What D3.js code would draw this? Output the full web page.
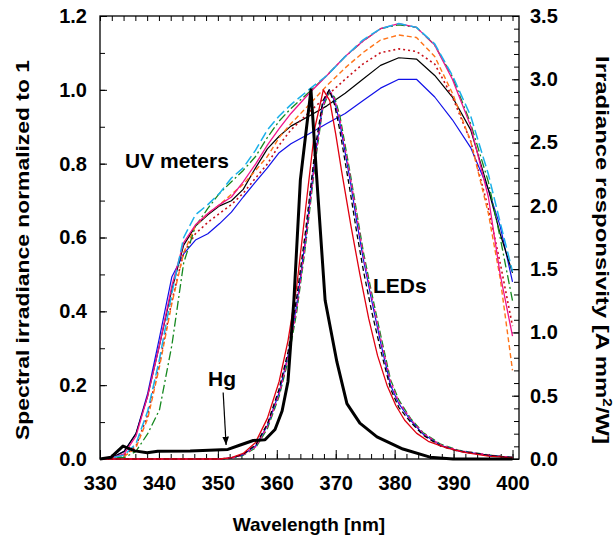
<!DOCTYPE html>
<html>
<head>
<meta charset="utf-8">
<script src="https://cdn.jsdelivr.net/npm/d3@7"></script>
<style>
body{margin:0;background:#fff}
text{font-family:"Liberation Sans",Arial,Helvetica,sans-serif;font-weight:bold;fill:#000}
</style>
</head>
<body>
<div id="chart"></div>
<script>
// UV meter responsivities [A mm2/W], right axis
const uvWl = [330,332,334.1,336.1,338.1,340.1,342.2,344.2,346.2,348.3,350.3,352.3,354.3,356.4,358.4,360.4,362.4,365.5,368.5,371.6,374.6,377.6,380.7,383.7,386.8,389.8,392.9,395.9,397.9,400]
const uvMagenta = [0,.01,.04,.18,.50,.90,1.37,1.71,1.85,1.94,2.01,2.07,2.19,2.33,2.48,2.61,2.73,2.89,3.03,3.18,3.30,3.40,3.44,3.41,3.27,3.00,2.63,2.07,1.46,0.97]
const uvCyan = [0,.01,.03,.12,.38,.79,1.31,1.75,1.93,2.01,2.10,2.22,2.30,2.44,2.60,2.71,2.80,2.92,3.03,3.18,3.31,3.40,3.44,3.41,3.28,3.03,2.71,2.25,1.87,1.48]
const uvGreen = [0,.01,.01,.06,.20,.39,.90,1.55,1.84,1.98,2.10,2.19,2.28,2.39,2.54,2.67,2.77,2.90,3.03,3.18,3.30,3.40,3.43,3.41,3.27,3.02,2.65,2.19,1.75,1.25]
const uvOrange = [0,.01,.02,.09,.32,.73,1.23,1.63,1.84,1.94,2.01,2.09,2.17,2.28,2.39,2.54,2.65,2.80,2.95,3.09,3.21,3.31,3.35,3.33,3.18,2.89,2.51,1.94,1.43,0.70]
const uvRed = [0,.01,.03,.10,.35,.76,1.25,1.63,1.78,1.87,1.94,2.01,2.10,2.22,2.33,2.48,2.60,2.74,2.87,3.00,3.12,3.21,3.24,3.22,3.12,2.86,2.51,1.98,1.55,1.05]
const uvBlack = [0,.01,.06,.20,.50,.90,1.34,1.69,1.84,1.93,2.00,2.04,2.13,2.30,2.45,2.55,2.63,2.71,2.79,2.89,3.00,3.11,3.17,3.16,3.03,2.86,2.60,2.13,1.78,1.47]
const uvBlue = [0,.01,.06,.20,.52,.96,1.44,1.62,1.73,1.78,1.86,1.95,2.07,2.19,2.30,2.42,2.49,2.57,2.65,2.73,2.83,2.93,3.00,3.00,2.86,2.68,2.46,2.13,1.84,1.40]

// Hg lamp spectrum, normalized (left axis)
const hgWl = [330,331.9,333.9,335.9,338,339.8,345.3,351.7,353.8,356,358,359.7,360.9,361.9,362.9,364,365.8,366.8,368.2,370.2,371.9,374.1,377,381.4,386,389.9,400]
const hgVal = [0,.005,.035,.022,.017,.021,.022,.026,.038,.05,.052,.08,.13,.21,.43,.756,1.0,.756,.43,.263,.15,.097,.06,.027,.005,0,0]

// LED spectra, normalized (left axis)
const ledWl = [330,350.3,352.3,354.3,356.4,358.4,360.4,361.9,363.4,364.9,366.5,367.8,368.9,369.8,370.7,372.5,373.6,374.7,376.1,377.7,379.3,380.7,382.7,384.8,387.8,390.8,395.9,400]
const ledBlue = [0,0,.003,.012,.035,.09,.18,.28,.42,.60,.82,.96,1.0,.97,.91,.75,.64,.54,.43,.31,.20,.15,.105,.068,.037,.022,.01,.004]
const ledBlack = [0,0,.003,.013,.038,.095,.19,.29,.44,.62,.84,.97,1.0,.96,.89,.72,.61,.51,.40,.29,.19,.14,.10,.065,.035,.021,.01,.004]
const ledMagenta = [0,0,.002,.011,.033,.088,.175,.275,.41,.59,.81,.955,1.0,.975,.92,.76,.655,.55,.44,.32,.21,.155,.108,.07,.038,.023,.011,.004]
const ledGreen = [0,0,.002,.01,.03,.082,.17,.265,.40,.58,.80,.95,.995,.98,.93,.77,.665,.56,.45,.33,.215,.16,.11,.072,.04,.024,.011,.004]
const ledRedWl = [330,350.3,352.3,354.3,356.4,358.4,360.4,361.9,363.4,364.9,366.5,367.9,369.0,370.0,371.0,372.6,374.1,375.6,377.1,378.7,380.2,381.7,383.7,385.7,388.8,391.8,395.9,400]
const ledRed = [0,0,.004,.015,.045,.11,.21,.32,.47,.68,.90,1.0,.97,.88,.78,.63,.50,.38,.28,.20,.145,.105,.07,.048,.03,.018,.008,.003]

const xTicks = [330,340,350,360,370,380,390,400]
const yLeftTicks = [0,0.2,0.4,0.6,0.8,1.0,1.2]
const yRightTicks = [0,0.5,1.0,1.5,2.0,2.5,3.0,3.5]

drawChart("#chart")

function drawChart(id){
    const canvas = createCanvas()
    const svg = d3.select(id).append("svg").attr("width",canvas.width).attr("height",canvas.height)
    const sc = addScales(canvas)
    addAxes(svg,sc,canvas)
    addUvLines(svg,sc)
    addLedLines(svg,sc)
    addHgLine(svg,sc)
    addLabels(svg,sc)
}

function createCanvas(){
    return { width:616, height:542, margin:{top:16,right:97,bottom:83,left:100} }
}

function addScales(canvas){
    const m = canvas.margin
    const x = d3.scaleLinear().domain([330,401.1]).range([m.left,canvas.width-m.right])
    const yL = d3.scaleLinear().domain([0,1.2]).range([canvas.height-m.bottom,m.top])
    const yR = d3.scaleLinear().domain([0,3.5]).range([canvas.height-m.bottom,m.top])
    return {x,yL,yR}
}

function addAxes(svg,sc,canvas){
    const m = canvas.margin
    const bottom = canvas.height-m.bottom, right = canvas.width-m.right
    const minorX = d3.range(330,401,2)

    const gb = svg.append("g").attr("transform",`translate(0,${bottom})`)
    gb.call(d3.axisBottom(sc.x).tickValues(minorX).tickSize(-5).tickFormat(""))
    gb.append("g").call(d3.axisBottom(sc.x).tickValues(xTicks).tickSize(-9).tickPadding(17).tickFormat(d3.format("d")))

    svg.append("g").attr("transform",`translate(0,${m.top})`)
        .call(d3.axisTop(sc.x).tickValues(minorX).tickSize(-5).tickFormat(""))

    const gl = svg.append("g").attr("transform",`translate(${m.left},0)`)
    gl.call(d3.axisLeft(sc.yL).tickValues(d3.range(0,1.21,0.1)).tickSize(-5).tickFormat(""))
    gl.append("g").call(d3.axisLeft(sc.yL).tickValues(yLeftTicks).tickSize(-7).tickPadding(13).tickFormat(d3.format(".1f")))

    const gr = svg.append("g").attr("transform",`translate(${right},0)`)
    gr.call(d3.axisRight(sc.yR).tickValues(d3.range(0,3.51,0.1)).tickSize(-5).tickFormat(""))
    gr.append("g").call(d3.axisRight(sc.yR).tickValues(yRightTicks).tickSize(-7).tickPadding(11).tickFormat(d3.format(".1f")))

    svg.selectAll(".domain").remove()
    svg.selectAll(".tick line").attr("stroke","#000").attr("stroke-width",1)
    svg.selectAll(".tick text").attr("font-size","20px").attr("font-family","Liberation Sans, Arial, sans-serif").attr("font-weight","bold")

    svg.append("rect").attr("x",m.left).attr("y",m.top)
        .attr("width",right-m.left).attr("height",bottom-m.top)
        .attr("fill","none").attr("stroke","#000").attr("stroke-width",1.3)
}

function addSeries(svg,wl,vals,y,x,color,width,dash){
    const line = d3.line().x(d => x(d[0])).y(d => y(d[1]))
    svg.append("path").datum(wl.map((w,i) => [w,vals[i]]))
        .attr("fill","none").attr("stroke",color).attr("stroke-width",width)
        .attr("stroke-dasharray",dash).attr("stroke-linejoin","round").attr("d",line)
}

function addUvLines(svg,sc){
    addSeries(svg,uvWl,uvBlue,sc.yR,sc.x,"#1010e8",1.2,null)
    addSeries(svg,uvWl,uvBlack,sc.yR,sc.x,"#000",1.2,null)
    addSeries(svg,uvWl,uvRed,sc.yR,sc.x,"#c8101a",1.6,"2 3")
    addSeries(svg,uvWl,uvOrange,sc.yR,sc.x,"#ff7418",1.4,"5 3")
    addSeries(svg,uvWl,uvGreen,sc.yR,sc.x,"#14881e",1.3,"9 3 2 3")
    addSeries(svg,uvWl,uvMagenta,sc.yR,sc.x,"#f0148c",1.3,null)
    addSeries(svg,uvWl,uvCyan,sc.yR,sc.x,"#1ab0ea",1.5,"10 4")
}

function addLedLines(svg,sc){
    addSeries(svg,ledWl,ledGreen,sc.yL,sc.x,"#14881e",1.3,"7 3")
    addSeries(svg,ledWl,ledBlue,sc.yL,sc.x,"#1010e8",1.2,null)
    addSeries(svg,ledWl,ledMagenta,sc.yL,sc.x,"#f0148c",1.4,"3 3")
    addSeries(svg,ledWl,ledBlack,sc.yL,sc.x,"#000",1.3,"5 3")
    addSeries(svg,ledRedWl,ledRed,sc.yL,sc.x,"#e00010",1.3,null)
}

function addHgLine(svg,sc){
    addSeries(svg,hgWl,hgVal,sc.yL,sc.x,"#000",3,null)
}

function addLabels(svg,sc){
    svg.append("text").attr("x",309).attr("y",531).attr("text-anchor","middle")
        .attr("font-size","19px").text("Wavelength [nm]")

    svg.append("text").attr("transform","translate(29,250) rotate(-90)")
        .attr("text-anchor","middle").attr("font-size","19px")
        .attr("textLength",380).attr("lengthAdjust","spacingAndGlyphs")
        .text("Spectral irradiance normalized to 1")

    const rt = svg.append("text").attr("transform","translate(596,250) rotate(90)")
        .attr("text-anchor","middle").attr("font-size","19px")
        .attr("textLength",388).attr("lengthAdjust","spacingAndGlyphs")
    rt.append("tspan").text("Irradiance responsivity [A mm")
    rt.append("tspan").attr("font-size","12px").attr("dy","-7").text("2")
    rt.append("tspan").attr("dy","7").text("/W]")

    svg.append("text").attr("x",125).attr("y",168).attr("font-size","21px").text("UV meters")
    svg.append("text").attr("x",373).attr("y",293).attr("font-size","21px").text("LEDs")
    svg.append("text").attr("x",208).attr("y",386).attr("font-size","21px").text("Hg")

    svg.append("defs").append("marker").attr("id","arr").attr("viewBox","0 0 10 10")
        .attr("refX",10).attr("refY",5).attr("markerWidth",7).attr("markerHeight",7)
        .attr("orient","auto").append("path").attr("d","M0,1 L10,5 L0,9 Z").attr("fill","#000")
    svg.append("line")
        .attr("x1",sc.x(350.9)).attr("y1",sc.yL(0.18))
        .attr("x2",sc.x(351.4)).attr("y2",sc.yL(0.038))
        .attr("stroke","#000").attr("stroke-width",1.2).attr("marker-end","url(#arr)")
}
</script>
</body>
</html>
